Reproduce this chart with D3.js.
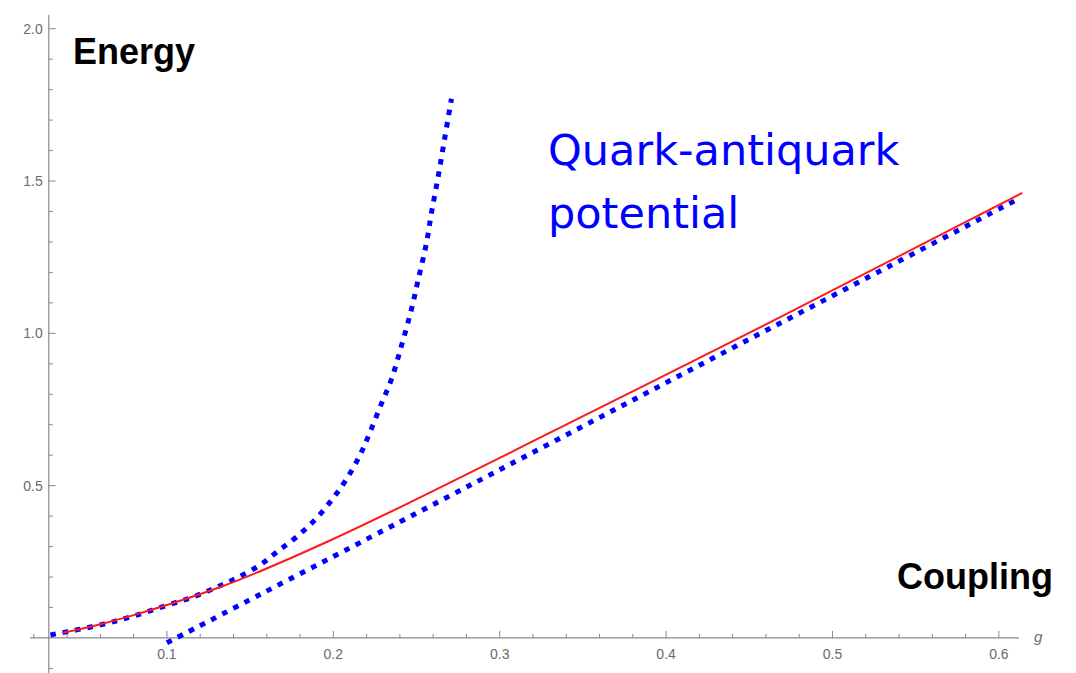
<!DOCTYPE html>
<html>
<head>
<meta charset="utf-8">
<script src="https://cdn.jsdelivr.net/npm/d3@7"></script>
<style>
  body { margin: 0; background: #fff; }
  svg { display: block; }
</style>
</head>
<body>
<div id="chart"></div>
<script>
// data
var weakG = [0.030, 0.060, 0.080, 0.100, 0.116, 0.130, 0.142, 0.156, 0.166, 0.178, 0.190, 0.200,
             0.208, 0.216, 0.222, 0.229, 0.235, 0.241, 0.247, 0.251, 0.256, 0.259, 0.263, 0.267, 0.271];
var weakE = [0.010, 0.043, 0.072, 0.107, 0.135, 0.167, 0.197, 0.240, 0.282, 0.332, 0.394, 0.460,
             0.522, 0.600, 0.675, 0.770, 0.850, 0.960, 1.080, 1.176, 1.297, 1.396, 1.514, 1.642, 1.770];

var strongG = [0.100, 0.240, 0.336, 0.428, 0.520, 0.612];
var strongE = [-0.016, 0.381, 0.655, 0.918, 1.180, 1.442];

var exactG = [0.037, 0.060, 0.080, 0.100, 0.130, 0.156, 0.196, 0.240, 0.300, 0.336, 0.432, 0.516, 0.614];
var exactE = [0.016, 0.045, 0.075, 0.108, 0.163, 0.219, 0.315, 0.429, 0.591, 0.690, 0.952, 1.186, 1.461];

var gMajor = [0.1, 0.2, 0.3, 0.4, 0.5, 0.6];
var gMinor = [0.02, 0.04, 0.06, 0.08, 0.12, 0.14, 0.16, 0.18, 0.22, 0.24, 0.26, 0.28,
              0.32, 0.34, 0.36, 0.38, 0.42, 0.44, 0.46, 0.48, 0.52, 0.54, 0.56, 0.58];
var eMajor = [0.5, 1.0, 1.5, 2.0];
var eMinor = [-0.1, 0.1, 0.2, 0.3, 0.4, 0.6, 0.7, 0.8, 0.9, 1.1, 1.2, 1.3, 1.4, 1.6, 1.7, 1.8, 1.9];

var width = 1076, height = 673;

var x = d3.scaleLinear().domain([0.0177, 0.6121]).range([30, 1019]);
var y = d3.scaleLinear().domain([-0.115, 2.045]).range([673, 15]);

var gOrigin = 0.029; // where the energy axis crosses

var svg = d3.select("#chart").append("svg")
    .attr("width", width)
    .attr("height", height);

var axisColor = "#8a8a8a", labelColor = "#6b6b6b";

// g axis
var xAxis = svg.append("g").attr("transform", `translate(0, ${y(0)})`);
xAxis.append("line")
    .attr("x1", x.range()[0]).attr("x2", x.range()[1])
    .attr("stroke", axisColor).attr("stroke-width", 1.2);
xAxis.selectAll("line.minor").data(gMinor).enter().append("line")
    .attr("x1", d => x(d)).attr("x2", d => x(d))
    .attr("y1", 0).attr("y2", -4)
    .attr("stroke", axisColor);
xAxis.selectAll("line.major").data(gMajor).enter().append("line")
    .attr("x1", d => x(d)).attr("x2", d => x(d))
    .attr("y1", 0).attr("y2", -7)
    .attr("stroke", axisColor);
xAxis.selectAll("text").data(gMajor).enter().append("text")
    .attr("x", d => x(d))
    .attr("y", 21)
    .attr("text-anchor", "middle")
    .style("font", "14px 'Liberation Sans', Arial, sans-serif")
    .attr("fill", labelColor)
    .text(d => d3.format(".1f")(d));
xAxis.append("text")
    .attr("x", 1034).attr("y", 4)
    .style("font", "italic 15px 'Liberation Sans', Arial, sans-serif")
    .attr("fill", labelColor)
    .text("g");

// energy axis
var yAxis = svg.append("g").attr("transform", `translate(${x(gOrigin)}, 0)`);
yAxis.append("line")
    .attr("y1", y.range()[0]).attr("y2", y.range()[1])
    .attr("stroke", axisColor).attr("stroke-width", 1.2);
yAxis.selectAll("line.minor").data(eMinor).enter().append("line")
    .attr("y1", d => y(d)).attr("y2", d => y(d))
    .attr("x1", 0).attr("x2", 4)
    .attr("stroke", axisColor);
yAxis.selectAll("line.major").data(eMajor).enter().append("line")
    .attr("y1", d => y(d)).attr("y2", d => y(d))
    .attr("x1", 0).attr("x2", 7)
    .attr("stroke", axisColor);
yAxis.selectAll("text").data(eMajor).enter().append("text")
    .attr("x", -6)
    .attr("y", d => y(d))
    .attr("dy", "0.35em")
    .attr("text-anchor", "end")
    .style("font", "14px 'Liberation Sans', Arial, sans-serif")
    .attr("fill", labelColor)
    .text(d => d3.format(".1f")(d));

// curves
var line = d3.line()
    .x(d => x(d[0]))
    .y(d => y(d[1]))
    .curve(d3.curveCatmullRom.alpha(0.5));

var weak = d3.zip(weakG, weakE);
var strong = d3.zip(strongG, strongE);
var exact = d3.zip(exactG, exactE);

svg.append("path").datum(weak)
    .attr("d", line)
    .attr("fill", "none")
    .attr("stroke", "#0000ff")
    .attr("stroke-width", 5)
    .attr("stroke-dasharray", "5.5,7");

svg.append("path").datum(strong)
    .attr("d", line)
    .attr("fill", "none")
    .attr("stroke", "#0000ff")
    .attr("stroke-width", 5)
    .attr("stroke-dasharray", "5.5,7");

svg.append("path").datum(exact)
    .attr("d", line)
    .attr("fill", "none")
    .attr("stroke", "#ff1a1a")
    .attr("stroke-width", 2);

// annotations
svg.append("text")
    .attr("x", 73).attr("y", 64)
    .style("font", "bold 36px 'Liberation Sans', Arial, sans-serif")
    .attr("fill", "#000")
    .text("Energy");

svg.append("text")
    .attr("x", 897).attr("y", 589)
    .style("font", "bold 36px 'Liberation Sans', Arial, sans-serif")
    .attr("fill", "#000")
    .text("Coupling");

var title = svg.append("text")
    .style("font", "43px 'DejaVu Sans', sans-serif")
    .attr("fill", "#0000ff");
title.append("tspan").attr("x", 548).attr("y", 165).text("Quark-antiquark");
title.append("tspan").attr("x", 548).attr("y", 228).text("potential");
</script>
</body>
</html>
